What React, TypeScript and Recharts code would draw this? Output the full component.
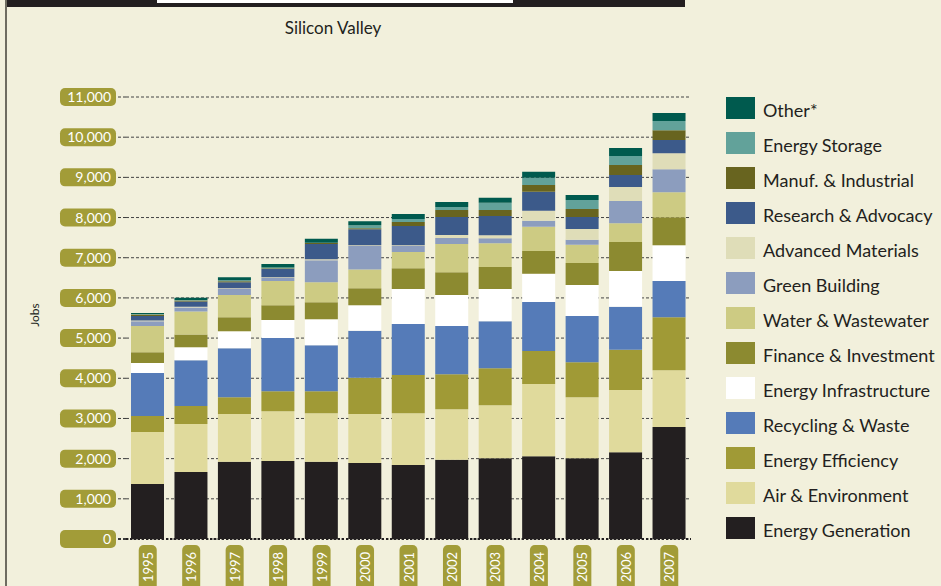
import { BarChart, Bar, XAxis, YAxis, CartesianGrid, ReferenceLine } from 'recharts';

const years = ['1995', '1996', '1997', '1998', '1999', '2000', '2001', '2002', '2003', '2004', '2005', '2006', '2007'];
const yTicks = [0, 1000, 2000, 3000, 4000, 5000, 6000, 7000, 8000, 9000, 10000, 11000];

// jobs by segment, bottom of the stack first
const energyGeneration = [1370, 1670, 1920, 1940, 1920, 1890, 1840, 1970, 2010, 2060, 2010, 2160, 2790];
const airEnvironment = [1290, 1190, 1190, 1240, 1210, 1220, 1290, 1260, 1320, 1800, 1520, 1550, 1410];
const energyEfficiency = [400, 450, 420, 500, 550, 900, 950, 870, 920, 820, 870, 1000, 1320];
const recyclingWaste = [1070, 1140, 1220, 1320, 1140, 1170, 1270, 1200, 1170, 1220, 1150, 1070, 900];
const energyInfrastructure = [250, 320, 420, 450, 650, 640, 870, 770, 800, 700, 770, 890, 890];
const financeInvestment = [270, 320, 350, 370, 420, 420, 520, 570, 550, 570, 550, 720, 700];
const waterWastewater = [650, 570, 550, 600, 500, 470, 400, 700, 590, 600, 450, 470, 620];
const greenBuilding = [120, 100, 150, 75, 550, 580, 150, 150, 125, 150, 125, 550, 570];
const advancedMaterials = [20, 20, 20, 20, 20, 20, 20, 75, 75, 250, 270, 350, 400];
const researchAdvocacy = [110, 130, 150, 210, 380, 400, 480, 450, 480, 470, 300, 300, 330];
const manufIndustrial = [40, 25, 25, 15, 25, 25, 100, 170, 150, 170, 200, 250, 240];
const energyStorage = [10, 15, 25, 15, 10, 75, 75, 75, 180, 180, 220, 220, 230];
const other = [25, 55, 75, 90, 100, 100, 125, 125, 125, 150, 125, 200, 200];

const series = [
  { key: 'gen', name: 'Energy Generation', color: '#231F20', values: energyGeneration },
  { key: 'air', name: 'Air & Environment', color: '#E0DA9C', values: airEnvironment },
  { key: 'eff', name: 'Energy Efficiency', color: '#A09A36', values: energyEfficiency },
  { key: 'rec', name: 'Recycling & Waste', color: '#557BB8', values: recyclingWaste },
  { key: 'inf', name: 'Energy Infrastructure', color: '#FFFFFF', values: energyInfrastructure },
  { key: 'fin', name: 'Finance & Investment', color: '#8C8A30', values: financeInvestment },
  { key: 'wat', name: 'Water & Wastewater', color: '#CDCB83', values: waterWastewater },
  { key: 'grn', name: 'Green Building', color: '#8C9DBE', values: greenBuilding },
  { key: 'adv', name: 'Advanced Materials', color: '#DFDDB8', values: advancedMaterials },
  { key: 'res', name: 'Research & Advocacy', color: '#3C5A8A', values: researchAdvocacy },
  { key: 'man', name: 'Manuf. & Industrial', color: '#68641F', values: manufIndustrial },
  { key: 'sto', name: 'Energy Storage', color: '#62A29A', values: energyStorage },
  { key: 'oth', name: 'Other*', color: '#005A4E', values: other },
];

const data = years.map((year, i) => {
  const row: Record<string, string | number> = { year };
  series.forEach((s) => {
    row[s.key] = s.values[i];
  });
  return row;
});

const PILL = '#A29C38';
const FONT = 'Lato, "Open Sans", sans-serif';

const YTick = (props: any) => {
  const { x, y, payload } = props;
  return (
    <g>
      <rect x={x - 66} y={y - 9} width={56} height={18} rx={5} fill={PILL} />
      <text x={x - 15} y={y} dy={5} textAnchor="end" fill="#fff" fontSize={14} fontFamily={FONT}>
        {payload.value.toLocaleString('en-US')}
      </text>
      <line x1={x - 8} x2={x} y1={y} y2={y} stroke="#3a3a3a" strokeDasharray="3 2" strokeWidth={payload.value === 0 ? 2 : 1} />
    </g>
  );
};

const XTick = (props: any) => {
  const { x, y, payload } = props;
  return (
    <g>
      <rect x={x - 9} y={y + 6} width={18} height={52} rx={5} fill={PILL} />
      <text
        x={x}
        y={y + 28}
        transform={`rotate(-90 ${x} ${y + 28})`}
        textAnchor="middle"
        dominantBaseline="central"
        fill="#fff"
        fontSize={13}
        fontFamily={FONT}
      >
        {payload.value}
      </text>
    </g>
  );
};

export default function App() {
  const legendItems = [...series].reverse();
  return (
    <div
      style={{
        position: 'absolute',
        left: 0,
        top: 0,
        width: 941,
        height: 586,
        background: '#F2F0DC',
        overflow: 'hidden',
        fontFamily: FONT,
        color: '#231F20',
      }}
    >
      {/* header strip and left rule */}
      <div style={{ position: 'absolute', left: 5, top: 0, width: 680, height: 7, background: '#231F20' }} />
      <div style={{ position: 'absolute', left: 157, top: 0, width: 356, height: 3, background: '#fff' }} />
      <div style={{ position: 'absolute', left: 5, top: 0, width: 2, height: 586, background: '#6E6C60' }} />

      <div style={{ position: 'absolute', left: 233, top: 17, width: 200, textAlign: 'center', fontSize: 17 }}>
        Silicon Valley
      </div>

      <div
        style={{
          position: 'absolute',
          left: 5,
          top: 307,
          width: 60,
          textAlign: 'center',
          fontSize: 12,
          lineHeight: '16px',
          transform: 'rotate(-90deg)',
        }}
      >
        Jobs
      </div>

      <div style={{ position: 'absolute', left: 0, top: 0 }}>
        <BarChart width={941} height={586} data={data} margin={{ top: 97, right: 250, bottom: 0, left: 0 }} barSize={33}>
          <CartesianGrid vertical={false} stroke="#444" strokeDasharray="3 2" />
          <XAxis dataKey="year" height={47} tickLine={false} axisLine={false} tickSize={0} tickMargin={0} interval={0} tick={<XTick />} />
          <YAxis
            width={126}
            domain={[0, 11000]}
            ticks={yTicks}
            tickLine={false}
            axisLine={false}
            tickSize={0}
            tickMargin={0}
            tick={<YTick />}
          />
          {series.map((s) => (
            <Bar key={s.key} dataKey={s.key} name={s.name} stackId="jobs" fill={s.color} isAnimationActive={false} />
          ))}
          <ReferenceLine y={0} stroke="#231F20" strokeWidth={2} strokeDasharray="2 2" />
        </BarChart>
      </div>

      {legendItems.map((s, i) => (
        <div key={s.key} style={{ position: 'absolute', left: 726, top: 97 + i * 35, height: 22, display: 'flex', alignItems: 'center' }}>
          <div style={{ width: 29, height: 22, background: s.color }} />
          <div style={{ marginLeft: 8, fontSize: 18, lineHeight: '22px', position: 'relative', top: 2, whiteSpace: 'nowrap' }}>{s.name}</div>
        </div>
      ))}
    </div>
  );
}
